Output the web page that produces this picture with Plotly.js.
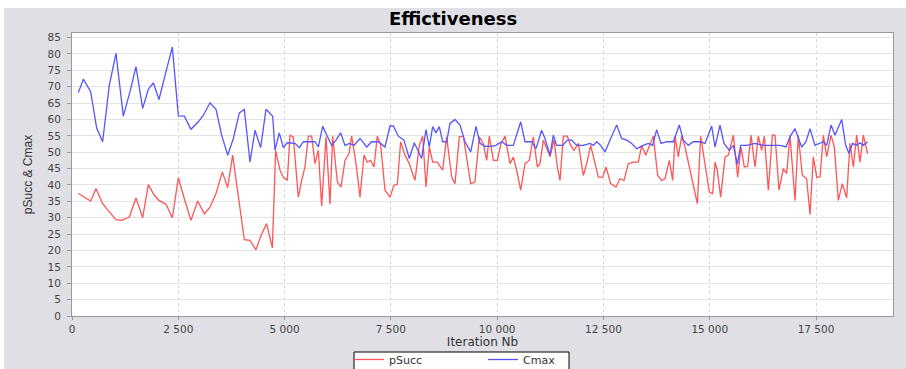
<!DOCTYPE html>
<html>
<head>
<meta charset="utf-8">
<script src="https://cdn.plot.ly/plotly-3.0.1.min.js"></script>
<style>html,body{margin:0;padding:0;background:#fff}#chart{width:906px;height:369px}</style>
</head>
<body>
<div id="chart"></div>
<script>
const xSucc = [149,282,439,565,721,878,1035,1168,1348,1505,1662,1795,1928,2046,2211,2360,2501,2642,2799,2956,3113,3246,3387,3536,3661,3779,3912,4053,4186,4327,4445,4578,4712,4790,4892,4970,5064,5127,5205,5323,5402,5480,5558,5637,5715,5794,5872,5974,6068,6131,6241,6327,6421,6515,6578,6680,6774,6868,6946,7025,7103,7181,7260,7362,7479,7573,7652,7730,7832,7934,8067,8169,8248,8326,8404,8483,8592,8718,8812,8930,9008,9110,9204,9298,9377,9478,9580,9674,9753,9815,9910,10004,10090,10184,10302,10380,10459,10553,10655,10756,10850,10945,11007,11086,11148,11243,11337,11415,11478,11556,11650,11729,11807,11909,12026,12105,12199,12277,12380,12481,12560,12670,12795,12889,12983,13085,13203,13320,13399,13493,13595,13673,13775,13870,13947,14049,14128,14183,14261,14339,14418,14535,14613,14708,14786,14888,14990,15068,15124,15178,15257,15359,15437,15555,15657,15735,15813,15892,15970,16064,16142,16221,16283,16378,16472,16535,16629,16730,16809,16887,17005,17083,17177,17279,17358,17436,17515,17593,17672,17750,17852,17930,18024,18118,18220,18298,18377,18455,18533,18612,18714];
const pSucc = [37.4,36.3,35.1,38.9,34.3,31.8,29.4,29.2,30.2,36.0,30.0,40.1,37.0,35.3,34.1,30.0,42.2,35.8,29.2,35.1,31.2,33.2,37.4,44.0,39.2,49.1,36.8,23.3,23.1,20.2,24.6,28.2,20.8,50.5,44.5,42.4,41.4,55.2,54.7,36.3,41.4,45.5,54.9,54.9,46.5,50.6,33.5,54.7,34.1,54.9,40.9,39.4,47.5,49.6,54.9,46.5,36.3,49.1,47.0,47.5,45.5,54.9,52.1,38.4,36.3,39.9,40.2,53.2,49.1,46.5,41.4,52.1,54.9,39.4,51.6,47.0,47.0,44.5,54.7,42.4,40.4,54.7,54.9,46.5,40.4,40.9,54.7,52.6,47.5,54.9,47.5,47.5,52.7,54.9,46.5,48.5,44.5,38.4,46.5,47.5,54.7,45.5,46.5,53.7,51.6,48.6,53.7,45.5,41.4,54.9,54.9,52.1,50.6,52.7,42.9,46.5,52.1,47.5,42.4,42.4,45.5,40.4,39.4,41.9,41.4,46.5,47.0,47.0,52.1,49.1,52.1,54.9,42.9,41.4,41.9,47.5,41.4,54.9,48.6,54.9,51.6,44.5,39.4,34.3,54.9,46.5,37.8,37.3,47.0,44.5,36.3,48.6,49.1,55.2,42.4,51.6,45.5,45.7,55.2,45.5,54.9,50.6,54.9,38.4,55.2,55.2,38.4,45.0,43.5,55.2,35.3,55.2,43.0,41.9,31.0,48.6,42.4,42.4,55.2,48.6,55.2,51.6,35.3,40.4,36.1,52.7,45.5,55.2,47.0,55.2,49.6];

const xCmax = [149,266,439,580,721,878,1035,1207,1364,1505,1662,1795,1913,2046,2211,2360,2501,2642,2799,2972,3089,3246,3387,3520,3661,3795,3936,4053,4186,4304,4437,4563,4720,4774,4876,4970,5064,5167,5245,5346,5441,5558,5715,5794,5896,6006,6107,6209,6319,6421,6523,6632,6774,6931,7048,7205,7362,7479,7558,7675,7808,7934,8051,8224,8326,8404,8483,8561,8639,8718,8812,8890,9008,9126,9243,9377,9502,9596,9713,9847,9972,10106,10223,10380,10553,10655,10811,10913,11046,11125,11243,11321,11399,11541,11650,11752,11870,12026,12183,12261,12340,12434,12536,12670,12811,12928,13046,13163,13281,13437,13555,13657,13751,13853,13987,14143,14284,14378,14496,14613,14771,14888,15045,15124,15241,15335,15459,15555,15649,15727,15868,16064,16260,16456,16652,16793,16887,17005,17083,17162,17263,17358,17475,17593,17672,17750,17852,17946,18103,18197,18275,18361,18455,18533,18612,18714];
const cmax = [68.2,72.3,68.5,57.4,53.2,70.5,80.2,61.0,68.5,76.1,63.4,69.2,71.2,66.1,74.6,82.1,61.1,61.0,57.0,59.3,61.3,65.1,63.1,55.2,49.1,54.2,62.0,63.1,47.0,56.7,51.4,63.1,61.0,50.6,55.9,51.4,52.9,52.9,52.7,51.4,53.2,53.2,53.2,51.6,57.9,54.9,52.1,53.7,55.9,52.1,52.7,52.1,54.2,51.6,53.2,53.2,51.6,58.0,58.0,54.9,53.7,48.1,52.9,48.1,56.9,51.6,57.8,55.9,57.8,53.2,53.2,58.8,60.0,58.3,53.2,50.1,57.9,52.7,51.8,51.8,52.1,53.2,52.1,52.1,59.3,53.2,53.2,51.1,56.7,54.2,49.1,55.2,52.1,52.1,53.7,53.7,52.1,52.1,52.7,52.1,53.2,52.1,50.1,54.2,58.3,54.2,53.7,52.7,51.1,52.1,52.7,52.1,56.9,52.7,53.2,53.2,58.3,53.7,52.1,53.2,53.2,52.7,58.0,51.6,58.3,52.7,50.6,52.1,46.3,52.1,52.1,52.7,52.1,52.1,52.1,51.6,54.7,57.2,54.7,51.6,53.2,57.2,52.1,52.7,53.2,52.1,58.3,55.2,60.0,52.1,49.6,52.7,52.1,52.9,52.1,53.2];

const yTicks = [0,5,10,15,20,25,30,35,40,45,50,55,60,65,70,75,80,85];
const xTickVals = [0,2500,5000,7500,10000,12500,15000,17500];
const xTickText = ['0','2 500','5 000','7 500','10 000','12 500','15 000','17 500'];

const tickFont = {family: 'DejaVu Sans, Verdana, sans-serif', size: 10.5, color: '#444'};

const traces = [
  {x: xSucc, y: pSucc, name: 'pSucc', type: 'scatter', mode: 'lines',
   line: {color: 'rgb(255,85,85)', width: 1.3}},
  {x: xCmax, y: cmax, name: 'Cmax', type: 'scatter', mode: 'lines',
   line: {color: 'rgb(85,85,255)', width: 1.3}}
];

// pixel helpers for paper coordinates (plot area 72..893 x 33..316)
const px = v => (v - 72) / 821;
const py = v => (316 - v) / 283;

const layout = {
  width: 906, height: 369,
  margin: {l: 72, r: 13, t: 33, b: 53, autoexpand: false},
  paper_bgcolor: '#dfdfe5',
  plot_bgcolor: '#ffffff',
  title: {text: '<b>Effictiveness</b>', x: 0.5, xanchor: 'center', y: 1 - 19/369, yanchor: 'middle',
          font: {family: 'DejaVu Sans, Verdana, sans-serif', size: 18, color: '#000'}},
  showlegend: true,
  legend: {orientation: 'h', x: px(349), xanchor: 'left', y: py(345), yanchor: 'top',
           bgcolor: 'rgba(0,0,0,0)', borderwidth: 0,
           entrywidth: 89, entrywidthmode: 'pixels',
           font: {family: 'DejaVu Sans, Verdana, sans-serif', size: 11, color: '#333'}},
  xaxis: {range: [0, 19310], tickvals: xTickVals, ticktext: xTickText,
          showgrid: true, gridcolor: '#d6d6d6', griddash: 'dot', gridwidth: 1,
          zeroline: false, showline: true, linecolor: '#999', mirror: true,
          ticks: 'outside', ticklen: 3, tickcolor: '#999', tickfont: tickFont,
          title: {text: 'Iteration Nb', standoff: 1, font: {family: 'DejaVu Sans, Verdana, sans-serif', size: 12, color: '#333'}}},
  yaxis: {range: [0, 86.4], tickvals: yTicks,
          showgrid: true, gridcolor: '#e4e4e4', gridwidth: 1,
          zeroline: false, showline: true, linecolor: '#999', mirror: true,
          ticks: 'outside', ticklen: 4, tickcolor: '#999', tickfont: tickFont,
          ticklabelstandoff: 4,
          title: {text: 'pSucc & Cmax', standoff: 12, font: {family: 'Liberation Sans Narrow, Arial Narrow, Liberation Sans, sans-serif', size: 12, color: '#333'}}},
  shapes: [
    {type: 'rect', xref: 'paper', yref: 'paper', x0: -0.1, x1: 1.1, y0: py(8), y1: 1.2,
     fillcolor: '#ffffff', line: {width: 0}, layer: 'above'},
    {type: 'rect', xref: 'paper', yref: 'paper', x0: -0.1, x1: px(4), y0: -0.3, y1: 1.2,
     fillcolor: '#ffffff', line: {width: 0}, layer: 'above'},
    {type: 'rect', xref: 'paper', yref: 'paper', x0: px(354), x1: px(569), y0: py(352), y1: py(378),
     fillcolor: '#ffffff', line: {width: 1, color: '#000'}, layer: 'above'}
  ]
};

Plotly.newPlot('chart', traces, layout, {displayModeBar: false, staticPlot: true});
</script>
</body>
</html>
